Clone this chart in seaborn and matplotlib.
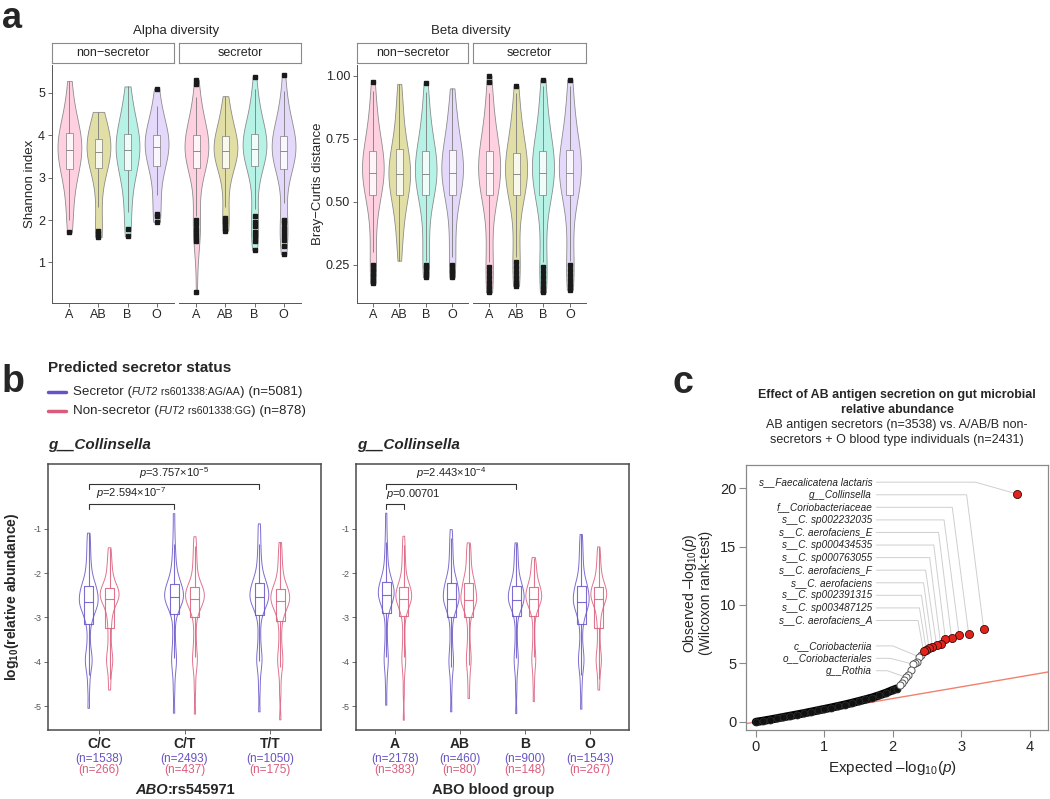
import matplotlib
matplotlib.use("Agg")
import numpy as np
import pandas as pd
import matplotlib.pyplot as plt
import seaborn as sns

# ---------------- data ----------------
blood_groups = ["A", "AB", "B", "O"]

# panel a, alpha diversity (Shannon index)
shannon_ns_A = [1.72, 2.0, 2.4, 2.75, 3.0, 3.2, 3.3, 3.4, 3.5, 3.58, 3.65, 3.72, 3.8, 3.88, 3.96, 4.05, 4.15, 4.3, 4.5, 4.8, 5.28]
shannon_ns_AB = [1.6, 1.68, 1.75, 2.3, 2.8, 3.22, 3.32, 3.4, 3.48, 3.55, 3.6, 3.66, 3.72, 3.78, 3.85, 3.92, 4.0, 4.1, 4.25, 4.4, 4.55]
shannon_ns_B = [1.62, 1.78, 2.2, 2.6, 2.95, 3.18, 3.3, 3.4, 3.5, 3.58, 3.65, 3.72, 3.8, 3.88, 3.95, 4.03, 4.15, 4.3, 4.5, 4.8, 5.15]
shannon_ns_O = [1.96, 2.1, 2.15, 2.6, 3.0, 3.28, 3.4, 3.5, 3.58, 3.66, 3.73, 3.8, 3.85, 3.9, 3.95, 4.0, 4.1, 4.25, 4.45, 4.7, 5.1]
shannon_sec_A = [0.3, 1.5, 1.6, 1.7, 1.8, 1.9, 2.0, 2.1, 2.6, 3.0, 3.22, 3.3, 3.36, 3.42, 3.47, 3.5, 3.53, 3.56, 3.58, 3.6, 3.63,
                 3.66, 3.69, 3.72, 3.75, 3.78, 3.82, 3.86, 3.9, 3.95, 4.0, 4.06, 4.12, 4.2, 4.3, 4.4, 4.55, 4.7, 4.9, 5.2, 5.3]
shannon_sec_AB = [1.75, 1.82, 1.9, 1.98, 2.05, 2.3, 2.6, 2.85, 3.0, 3.12, 3.22, 3.3, 3.36, 3.42, 3.47, 3.5, 3.54, 3.57, 3.59, 3.61, 3.63,
                  3.66, 3.69, 3.72, 3.75, 3.78, 3.81, 3.85, 3.89, 3.93, 3.98, 4.04, 4.1, 4.18, 4.26, 4.35, 4.45, 4.55, 4.65, 4.78, 4.92]
shannon_sec_B = [1.3, 1.5, 1.62, 1.72, 1.85, 1.95, 2.1, 2.25, 2.7, 3.05, 3.28, 3.36, 3.42, 3.47, 3.51, 3.55, 3.58, 3.61, 3.63, 3.65, 3.67,
                 3.7, 3.73, 3.76, 3.79, 3.82, 3.86, 3.9, 3.94, 3.98, 4.03, 4.09, 4.15, 4.23, 4.32, 4.42, 4.55, 4.7, 4.9, 5.1, 5.38]
shannon_sec_O = [1.2, 1.4, 1.52, 1.62, 1.72, 1.82, 1.92, 2.0, 2.4, 2.85, 3.2, 3.28, 3.34, 3.4, 3.45, 3.49, 3.52, 3.55, 3.58, 3.6, 3.62,
                 3.65, 3.68, 3.71, 3.74, 3.77, 3.8, 3.84, 3.88, 3.93, 3.98, 4.04, 4.1, 4.18, 4.27, 4.37, 4.5, 4.65, 4.85, 5.05, 5.42]

# panel a, beta diversity (Bray-Curtis distance)
bray_ns_A = [0.175, 0.19, 0.21, 0.23, 0.25, 0.30, 0.36, 0.42, 0.46, 0.5, 0.525, 0.54, 0.555, 0.57, 0.58, 0.59, 0.598, 0.604, 0.608, 0.612, 0.615,
             0.62, 0.628, 0.636, 0.645, 0.655, 0.665, 0.675, 0.685, 0.693, 0.70, 0.715, 0.73, 0.75, 0.77, 0.8, 0.83, 0.86, 0.9, 0.94, 0.975]
bray_ns_AB = [0.265, 0.3, 0.34, 0.38, 0.41, 0.44, 0.46, 0.48, 0.495, 0.51, 0.525, 0.54, 0.553, 0.565, 0.575, 0.584, 0.592, 0.598, 0.603, 0.607, 0.61,
              0.617, 0.625, 0.634, 0.644, 0.655, 0.666, 0.677, 0.688, 0.699, 0.71, 0.725, 0.74, 0.76, 0.78, 0.81, 0.84, 0.87, 0.9, 0.935, 0.968]
bray_ns_B = [0.20, 0.215, 0.235, 0.25, 0.265, 0.30, 0.36, 0.42, 0.46, 0.5, 0.525, 0.54, 0.553, 0.565, 0.575, 0.584, 0.592, 0.598, 0.603, 0.607, 0.61,
             0.616, 0.624, 0.633, 0.643, 0.654, 0.664, 0.674, 0.683, 0.692, 0.70, 0.714, 0.73, 0.75, 0.775, 0.8, 0.83, 0.86, 0.9, 0.935, 0.97]
bray_ns_O = [0.20, 0.215, 0.23, 0.25, 0.28, 0.33, 0.38, 0.43, 0.47, 0.5, 0.525, 0.54, 0.555, 0.567, 0.578, 0.588, 0.596, 0.602, 0.607, 0.61, 0.613,
             0.62, 0.628, 0.637, 0.647, 0.658, 0.669, 0.68, 0.69, 0.698, 0.705, 0.72, 0.735, 0.755, 0.775, 0.8, 0.825, 0.85, 0.88, 0.91, 0.95]
bray_sec_A = [0.14, 0.16, 0.18, 0.2, 0.22, 0.24, 0.26, 0.33, 0.42, 0.48, 0.525, 0.54, 0.555, 0.567, 0.578, 0.588, 0.596, 0.602, 0.607, 0.61, 0.612,
              0.619, 0.627, 0.636, 0.646, 0.657, 0.668, 0.679, 0.689, 0.697, 0.703, 0.72, 0.74, 0.76, 0.79, 0.82, 0.85, 0.89, 0.93, 0.975, 1.0]
bray_sec_AB = [0.165, 0.18, 0.2, 0.22, 0.24, 0.26, 0.28, 0.34, 0.42, 0.48, 0.525, 0.538, 0.55, 0.562, 0.572, 0.582, 0.59, 0.596, 0.601, 0.605, 0.608,
               0.615, 0.622, 0.63, 0.639, 0.649, 0.659, 0.669, 0.679, 0.688, 0.695, 0.71, 0.725, 0.745, 0.77, 0.8, 0.83, 0.86, 0.895, 0.93, 0.96]
bray_sec_B = [0.14, 0.16, 0.18, 0.2, 0.22, 0.24, 0.26, 0.33, 0.42, 0.48, 0.525, 0.54, 0.555, 0.567, 0.578, 0.588, 0.596, 0.602, 0.607, 0.61, 0.612,
              0.619, 0.627, 0.636, 0.646, 0.657, 0.668, 0.679, 0.689, 0.697, 0.703, 0.72, 0.74, 0.76, 0.79, 0.82, 0.85, 0.89, 0.93, 0.96, 0.985]
bray_sec_O = [0.15, 0.17, 0.19, 0.21, 0.23, 0.25, 0.265, 0.33, 0.42, 0.48, 0.525, 0.54, 0.555, 0.567, 0.578, 0.588, 0.596, 0.602, 0.607, 0.61, 0.613,
              0.62, 0.628, 0.637, 0.647, 0.658, 0.669, 0.68, 0.69, 0.698, 0.705, 0.72, 0.74, 0.76, 0.79, 0.82, 0.85, 0.89, 0.93, 0.96, 0.985]

# panel b, log10 relative abundance of g__Collinsella
genotypes = ["C/C", "C/T", "T/T"]
geno_n_sec = [1538, 2493, 1050]
geno_n_non = [266, 437, 175]
cc_sec = [-5.05, -4.6, -4.3, -4.12, -4.03, -3.97, -3.9, -3.8, -3.62, -3.4, -3.16, -3.05, -2.97, -2.9, -2.84, -2.79, -2.75, -2.72, -2.69, -2.67, -2.66,
          -2.63, -2.59, -2.55, -2.51, -2.47, -2.43, -2.39, -2.36, -2.33, -2.30, -2.25, -2.2, -2.12, -2.03, -1.92, -1.8, -1.65, -1.48, -1.3, -1.1]
cc_non = [-4.64, -4.4, -4.2, -4.08, -4.0, -3.94, -3.87, -3.77, -3.6, -3.42, -3.25, -3.1, -2.98, -2.88, -2.8, -2.73, -2.68, -2.64, -2.61, -2.59, -2.58,
          -2.56, -2.53, -2.5, -2.47, -2.44, -2.41, -2.39, -2.37, -2.35, -2.33, -2.29, -2.24, -2.18, -2.11, -2.03, -1.94, -1.84, -1.72, -1.58, -1.43]
ct_sec = [-5.16, -4.65, -4.3, -4.1, -4.0, -3.92, -3.8, -3.62, -3.4, -3.15, -2.93, -2.85, -2.79, -2.74, -2.7, -2.66, -2.63, -2.6, -2.58, -2.56, -2.55,
          -2.52, -2.49, -2.46, -2.43, -2.4, -2.36, -2.32, -2.29, -2.26, -2.24, -2.19, -2.13, -2.05, -1.96, -1.85, -1.72, -1.55, -1.35, -1.05, -0.66]
ct_non = [-5.18, -4.6, -4.25, -4.07, -3.98, -3.9, -3.8, -3.62, -3.42, -3.18, -2.98, -2.9, -2.83, -2.77, -2.72, -2.68, -2.65, -2.62, -2.6, -2.59, -2.58,
          -2.55, -2.52, -2.49, -2.46, -2.43, -2.4, -2.37, -2.35, -2.33, -2.32, -2.27, -2.21, -2.14, -2.05, -1.95, -1.83, -1.7, -1.55, -1.38, -1.18]
tt_sec = [-5.13, -4.62, -4.28, -4.08, -3.99, -3.92, -3.82, -3.64, -3.42, -3.17, -2.95, -2.87, -2.8, -2.75, -2.7, -2.66, -2.63, -2.6, -2.58, -2.56, -2.55,
          -2.52, -2.49, -2.46, -2.42, -2.38, -2.34, -2.3, -2.27, -2.25, -2.23, -2.18, -2.12, -2.04, -1.95, -1.84, -1.7, -1.54, -1.35, -1.13, -0.89]
tt_non = [-5.31, -4.7, -4.32, -4.12, -4.02, -3.95, -3.86, -3.72, -3.52, -3.3, -3.09, -2.99, -2.91, -2.84, -2.78, -2.73, -2.7, -2.67, -2.65, -2.64, -2.64,
          -2.61, -2.58, -2.54, -2.5, -2.47, -2.44, -2.41, -2.39, -2.37, -2.35, -2.3, -2.25, -2.18, -2.1, -2.01, -1.9, -1.78, -1.64, -1.48, -1.31]

abo_n_sec = [2178, 460, 900, 1543]
abo_n_non = [383, 80, 148, 267]
a_sec = [-4.98, -4.55, -4.25, -4.07, -3.98, -3.9, -3.78, -3.6, -3.38, -3.14, -2.91, -2.83, -2.76, -2.7, -2.65, -2.61, -2.58, -2.55, -2.53, -2.51, -2.5,
         -2.47, -2.44, -2.41, -2.38, -2.35, -2.31, -2.27, -2.24, -2.22, -2.2, -2.15, -2.09, -2.01, -1.92, -1.81, -1.67, -1.5, -1.3, -1.02, -0.65]
a_non = [-5.32, -4.7, -4.3, -4.08, -3.98, -3.9, -3.79, -3.6, -3.4, -3.17, -2.97, -2.89, -2.82, -2.76, -2.71, -2.67, -2.64, -2.61, -2.59, -2.58, -2.58,
         -2.55, -2.52, -2.49, -2.46, -2.43, -2.4, -2.37, -2.34, -2.32, -2.31, -2.26, -2.2, -2.13, -2.04, -1.94, -1.82, -1.69, -1.54, -1.37, -1.17]
ab_sec = [-5.13, -4.62, -4.3, -4.12, -4.03, -3.95, -3.84, -3.66, -3.44, -3.2, -2.99, -2.9, -2.83, -2.77, -2.72, -2.68, -2.65, -2.62, -2.6, -2.59, -2.58,
          -2.54, -2.5, -2.46, -2.42, -2.38, -2.34, -2.3, -2.27, -2.24, -2.22, -2.17, -2.11, -2.03, -1.94, -1.83, -1.7, -1.55, -1.4, -1.22, -1.02]
ab_non = [-4.83, -4.5, -4.25, -4.08, -3.98, -3.9, -3.8, -3.64, -3.43, -3.2, -2.99, -2.91, -2.84, -2.78, -2.73, -2.69, -2.66, -2.63, -2.61, -2.6, -2.6,
          -2.56, -2.52, -2.48, -2.44, -2.4, -2.35, -2.31, -2.27, -2.24, -2.22, -2.17, -2.12, -2.05, -1.97, -1.88, -1.78, -1.67, -1.55, -1.44, -1.32]
b_sec = [-5.17, -4.65, -4.3, -4.1, -4.0, -3.92, -3.82, -3.64, -3.42, -3.18, -2.97, -2.89, -2.82, -2.77, -2.72, -2.68, -2.65, -2.63, -2.61, -2.6, -2.6,
         -2.57, -2.54, -2.5, -2.46, -2.43, -2.39, -2.35, -2.32, -2.3, -2.29, -2.24, -2.18, -2.11, -2.03, -1.94, -1.84, -1.72, -1.6, -1.46, -1.32]
b_non = [-4.9, -4.52, -4.25, -4.08, -3.98, -3.9, -3.8, -3.63, -3.42, -3.18, -2.97, -2.89, -2.82, -2.76, -2.71, -2.67, -2.64, -2.62, -2.6, -2.59, -2.59,
         -2.56, -2.53, -2.5, -2.47, -2.44, -2.41, -2.38, -2.35, -2.33, -2.31, -2.27, -2.23, -2.18, -2.12, -2.05, -1.98, -1.9, -1.82, -1.74, -1.65]
o_sec = [-5.07, -4.6, -4.3, -4.12, -4.03, -3.96, -3.88, -3.77, -3.6, -3.38, -3.16, -3.05, -2.96, -2.89, -2.83, -2.78, -2.74, -2.71, -2.68, -2.66, -2.65,
         -2.62, -2.58, -2.54, -2.5, -2.46, -2.42, -2.38, -2.34, -2.31, -2.29, -2.24, -2.18, -2.1, -2.01, -1.9, -1.78, -1.64, -1.49, -1.32, -1.13]
o_non = [-4.64, -4.4, -4.2, -4.08, -4.0, -3.94, -3.87, -3.77, -3.6, -3.42, -3.23, -3.08, -2.97, -2.87, -2.79, -2.72, -2.67, -2.63, -2.6, -2.59, -2.58,
         -2.55, -2.52, -2.49, -2.46, -2.43, -2.4, -2.37, -2.35, -2.33, -2.31, -2.27, -2.22, -2.16, -2.09, -2.01, -1.92, -1.82, -1.7, -1.56, -1.41]

# panel c, QQ plot (expected vs observed -log10 p)
bulk_expected = [0.0, 0.1, 0.2, 0.3, 0.4, 0.5, 0.6, 0.7, 0.8, 0.9, 1.0, 1.1, 1.2, 1.3, 1.4, 1.5, 1.6, 1.7, 1.8, 1.9, 2.0, 2.06]
bulk_observed = [0.0, 0.09, 0.19, 0.3, 0.41, 0.52, 0.63, 0.74, 0.86, 0.98, 1.1, 1.22, 1.35, 1.48, 1.62, 1.77, 1.92, 2.08, 2.27, 2.48, 2.72, 2.85]
open_expected = [2.41, 2.38, 2.35, 2.32, 2.29, 2.26, 2.23, 2.2, 2.17, 2.14, 2.11]
open_observed = [5.72, 5.58, 5.12, 5.02, 4.95, 4.45, 4.0, 3.8, 3.55, 3.35, 3.2]
red_expected = [3.81, 3.33, 3.11, 2.97, 2.86, 2.77, 2.70, 2.64, 2.58, 2.53, 2.49, 2.45]
red_observed = [19.5, 7.95, 7.52, 7.42, 7.15, 7.08, 6.65, 6.6, 6.42, 6.3, 6.15, 6.05]
red_labels = ["s__Faecalicatena lactaris", "g__Collinsella", "f__Coriobacteriaceae", "s__C. sp002232035",
              "s__C. aerofaciens_E", "s__C. sp000434535", "s__C. sp000763055", "s__C. aerofaciens_F",
              "s__C. aerofaciens", "s__C. sp002391315", "s__C. sp003487125", "s__C. aerofaciens_A"]
open_labels = ["c__Coriobacteriia", "o__Coriobacteriales", "g__Rothia"]
open_label_idx = [1, 4, 7]

# ---------------- style ----------------
sns.set_theme(style="white")
plt.rcParams["font.family"] = ["Liberation Sans", "DejaVu Sans"]
plt.rcParams["axes.unicode_minus"] = False
plt.rcParams["mathtext.fontset"] = "custom"
plt.rcParams["mathtext.rm"] = "Liberation Sans"
plt.rcParams["mathtext.it"] = "Liberation Sans:italic"
plt.rcParams["mathtext.bf"] = "Liberation Sans:bold"
plt.rcParams["mathtext.default"] = "regular"

abo_colors = {"A": "#FFD1E0", "AB": "#E2DFA6", "B": "#B6F2E6", "O": "#E4D9FA"}
sec_color = "#6753C6"
non_color = "#DA5C7B"
status_colors = {"Secretor": sec_color, "Non-secretor": non_color}

W, H = 1050, 799
fig = plt.figure(figsize=(W / 100, H / 100), dpi=100)
renderer = fig.canvas.get_renderer()


def px_axes(left, top, right, bottom):
    return fig.add_axes([left / W, 1 - bottom / H, (right - left) / W, (bottom - top) / H])


def ftext(x, y, s, **kw):
    return fig.text(x / W, 1 - y / H, s, **kw)


def rich(x, y, parts, ha="left"):
    # several text pieces with their own styles placed one after another
    texts, widths = [], []
    for s, kw in parts:
        t = ftext(0, y, s, va="center", ha="left", **kw)
        texts.append(t)
        widths.append(t.get_window_extent(renderer).width)
    total = sum(widths)
    cur = x - total / 2 if ha == "center" else x
    for t, w in zip(texts, widths):
        t.set_x(cur / W)
        cur += w


# ---------------- panel a ----------------
def diversity_facet(ax, lists, ylim, yticks, ticklabels, show_y):
    rows = [(g, v) for g, vals in zip(blood_groups, lists) for v in vals]
    df = pd.DataFrame(rows, columns=["group", "value"])
    sns.violinplot(data=df, x="group", y="value", hue="group", order=blood_groups,
                   hue_order=blood_groups, palette=abo_colors, legend=False, inner=None,
                   cut=0, density_norm="width", width=0.82, linecolor="#8c8c8c",
                   linewidth=0.6, bw_adjust=1.05, saturation=1, ax=ax)
    sns.boxplot(data=df, x="group", y="value", order=blood_groups, width=0.26,
                color="white", linecolor="#7a7a7a", linewidth=0.6, showcaps=False,
                flierprops=dict(marker="s", markersize=3.0, markerfacecolor="#1a1a1a",
                                markeredgecolor="#1a1a1a"), ax=ax)
    for p in ax.patches:
        p.set_alpha(0.8)
    ax.set_xlim(-0.6, 3.6)
    ax.set_ylim(*ylim)
    ax.set_xlabel("")
    ax.set_ylabel("")
    for s in ["top", "right"]:
        ax.spines[s].set_visible(False)
    ax.spines["bottom"].set_color("#555555")
    ax.spines["left"].set_color("#555555")
    ax.spines["bottom"].set_linewidth(0.7)
    ax.spines["left"].set_linewidth(0.7)
    ax.tick_params(axis="x", length=3, width=0.6, color="#555555", labelsize=9, pad=1, bottom=True)
    if show_y:
        ax.set_yticks(yticks)
        ax.set_yticklabels(ticklabels)
        ax.tick_params(axis="y", length=3, width=0.6, color="#555555", labelsize=9, pad=2, left=True)
    else:
        ax.spines["left"].set_visible(False)
        ax.set_yticks([])


def strip(left, right, label):
    sax = px_axes(left, 43, right, 63)
    sax.set_xticks([])
    sax.set_yticks([])
    for s in sax.spines.values():
        s.set_color("#8a8a8a")
        s.set_linewidth(0.8)
    sax.text(0.5, 0.5, label, ha="center", va="center", fontsize=9, transform=sax.transAxes)


alpha_lim = (0.045, 5.655)
beta_lim = (0.097, 1.043)
ax1 = px_axes(52, 65, 174, 303)
diversity_facet(ax1, [shannon_ns_A, shannon_ns_AB, shannon_ns_B, shannon_ns_O], alpha_lim,
                [1, 2, 3, 4, 5], ["1", "2", "3", "4", "5"], True)
ax2 = px_axes(179, 65, 301, 303)
diversity_facet(ax2, [shannon_sec_A, shannon_sec_AB, shannon_sec_B, shannon_sec_O], alpha_lim, [], [], False)
ax3 = px_axes(357, 65, 468, 303)
diversity_facet(ax3, [bray_ns_A, bray_ns_AB, bray_ns_B, bray_ns_O], beta_lim,
                [0.25, 0.5, 0.75, 1.0], ["0.25", "0.50", "0.75", "1.00"], True)
ax4 = px_axes(473, 65, 586, 303)
diversity_facet(ax4, [bray_sec_A, bray_sec_AB, bray_sec_B, bray_sec_O], beta_lim, [], [], False)

strip(52, 174, "non\u2212secretor")
strip(179, 301, "secretor")
strip(357, 468, "non\u2212secretor")
strip(473, 586, "secretor")
ftext(176, 31, "Alpha diversity", ha="center", va="center", fontsize=9.5)
ftext(471, 31, "Beta diversity", ha="center", va="center", fontsize=9.5)
ftext(30, 184, "Shannon index", ha="center", va="center", rotation=90, fontsize=9.5)
ftext(318, 184, "Bray\u2212Curtis distance", ha="center", va="center", rotation=90, fontsize=9.5)
ftext(2, 1, "a", fontsize=26, fontweight="bold", va="top")

# ---------------- panel b ----------------
ftext(2, 392, "b", fontsize=27, fontweight="bold", va="baseline")
ftext(48, 368, "Predicted secretor status", fontsize=11, fontweight="bold", va="center")
for yy, col, parts in [
    (392, sec_color, [("Secretor (", {"fontsize": 9.6}), ("FUT2", {"fontsize": 7.6, "style": "italic"}),
                      (" rs601338:AG/AA", {"fontsize": 7.6}), (") (n=5081)", {"fontsize": 9.6})]),
    (411, non_color, [("Non-secretor (", {"fontsize": 9.6}), ("FUT2", {"fontsize": 7.6, "style": "italic"}),
                      (" rs601338:GG", {"fontsize": 7.6}), (") (n=878)", {"fontsize": 9.6})])]:
    fig.add_artist(plt.Line2D([48 / W, 66 / W], [1 - yy / H, 1 - yy / H], color=col, lw=2.5))
    rich(73, yy, parts)


def collinsella_panel(ax, cats, sec_lists, non_lists, width, box_gap):
    rows = []
    for c, s, n in zip(cats, sec_lists, non_lists):
        rows += [(c, "Secretor", v) for v in s]
        rows += [(c, "Non-secretor", v) for v in n]
    df = pd.DataFrame(rows, columns=["cat", "status", "value"])
    sns.violinplot(data=df, x="cat", y="value", hue="status", order=cats,
                   hue_order=["Secretor", "Non-secretor"], palette=status_colors, fill=False,
                   inner=None, cut=0, density_norm="width", width=width, gap=0.1,
                   linewidth=0.7, bw_adjust=0.42, legend=False, ax=ax)
    sns.boxplot(data=df, x="cat", y="value", hue="status", order=cats,
                hue_order=["Secretor", "Non-secretor"], palette=status_colors, fill=False,
                width=width, gap=box_gap, linewidth=0.8, showfliers=False, showcaps=False,
                legend=False, ax=ax)
    for art in ax.collections + ax.lines + ax.patches:
        art.set_alpha(0.85)
    ax.set_xlim(-0.6, len(cats) - 0.4)
    ax.set_ylim(-5.54, 0.46)
    ax.set_yticks([-5, -4, -3, -2, -1])
    ax.set_yticklabels(["-5", "-4", "-3", "-2", "-1"])
    ax.set_xticks(range(len(cats)))
    ax.set_xticklabels([])
    ax.set_xlabel("")
    ax.set_ylabel("")
    for s in ax.spines.values():
        s.set_visible(True)
        s.set_color("#4a4a4a")
        s.set_linewidth(1.1)
    ax.tick_params(axis="y", length=3, width=0.6, color="#555555", labelsize=6.5,
                   labelcolor="#555555", pad=1.5, left=True)
    ax.tick_params(axis="x", length=3, width=0.6, color="#555555", bottom=True)
    tr = ax.get_xaxis_transform()
    for i, c in enumerate(cats):
        ax.text(i, -0.052, c, transform=tr, ha="center", va="center", fontsize=10, fontweight="bold")
    return tr


def bracket(ax, x0, x1, y, label, ha="center"):
    ax.plot([x0, x0, x1, x1], [y - 0.11, y, y, y - 0.11], color="#333333", lw=0.8)
    tx = (x0 + x1) / 2 if ha == "center" else x0
    ax.text(tx, y + 0.07, label, ha=ha, va="bottom", fontsize=8, color="#222222")


axb1 = px_axes(48, 464, 321, 730)
tr1 = collinsella_panel(axb1, genotypes, [cc_sec, ct_sec, tt_sec], [cc_non, ct_non, tt_non], 0.49, 0.57)
for i in range(3):
    axb1.text(i, -0.108, f"(n={geno_n_sec[i]})", transform=tr1, ha="center", va="center", fontsize=8.5, color=sec_color)
    axb1.text(i, -0.150, f"(n={geno_n_non[i]})", transform=tr1, ha="center", va="center", fontsize=8.5, color=non_color)
bracket(axb1, -0.123, 1.877, 0.01, r"$\it{p}$=3.757×10$^{-5}$")
bracket(axb1, -0.123, 0.877, -0.44, r"$\it{p}$=2.594×10$^{-7}$")

axb2 = px_axes(356, 464, 629, 730)
tr2 = collinsella_panel(axb2, blood_groups, [a_sec, ab_sec, b_sec, o_sec], [a_non, ab_non, b_non, o_non], 0.54, 0.47)
for i in range(4):
    axb2.text(i, -0.108, f"(n={abo_n_sec[i]})", transform=tr2, ha="center", va="center", fontsize=8.5, color=sec_color)
    axb2.text(i, -0.150, f"(n={abo_n_non[i]})", transform=tr2, ha="center", va="center", fontsize=8.5, color=non_color)
bracket(axb2, -0.135, 1.865, 0.01, r"$\it{p}$=2.443×10$^{-4}$")
bracket(axb2, -0.135, 0.135, -0.44, r"$\it{p}$=0.00701", ha="left")

ftext(48, 445, "g__Collinsella", fontsize=11, fontweight="bold", style="italic", va="center")
ftext(357, 445, "g__Collinsella", fontsize=11, fontweight="bold", style="italic", va="center")
ftext(12, 597, r"log$_{\bf 10}$(relative abundance)", fontsize=10, fontweight="bold", rotation=90,
      ha="center", va="center")
rich(185, 790, [("ABO", {"fontsize": 10.5, "fontweight": "bold", "style": "italic"}),
                (":rs545971", {"fontsize": 10.5, "fontweight": "bold"})], ha="center")
ftext(493, 790, "ABO blood group", fontsize=10.5, fontweight="bold", ha="center", va="center")

# ---------------- panel c ----------------
ftext(672, 393, "c", fontsize=27, fontweight="bold", va="baseline")
ftext(897, 395, "Effect of AB antigen secretion on gut microbial", fontsize=8.9, fontweight="bold", ha="center", va="center")
ftext(897, 410, "relative abundance", fontsize=8.9, fontweight="bold", ha="center", va="center")
ftext(897, 425, "AB antigen secretors (n=3538) vs. A/AB/B non-", fontsize=9, ha="center", va="center")
ftext(897, 440, "secretors + O blood type individuals (n=2431)", fontsize=9, ha="center", va="center")

axc = px_axes(746, 465, 1048, 730)
axc.axline((0, 0), slope=1, color="#F2816E", lw=1, zorder=1)
sns.lineplot(x=bulk_expected, y=bulk_observed, sort=False, estimator=None, color="black",
             lw=6, solid_capstyle="round", ax=axc, zorder=2)
sns.scatterplot(x=bulk_expected, y=bulk_observed, s=26, color="#111111", edgecolor="#333333",
                linewidth=0.5, ax=axc, zorder=3)
sns.scatterplot(x=open_expected, y=open_observed, s=26, facecolor="white", edgecolor="#555555",
                linewidth=0.7, ax=axc, zorder=3)
sns.scatterplot(x=red_expected, y=red_observed, s=34, color="#E2231A", edgecolor="#3a0a08",
                linewidth=0.6, ax=axc, zorder=4)

label_x = 1.70
line_start = 1.76
knee_x = [3.21, 3.08, 2.87, 2.75, 2.67, 2.6, 2.54, 2.48, 2.45, 2.42, 2.39, 2.37]
for i, (lab, ex, ob) in enumerate(zip(red_labels, red_expected, red_observed)):
    ly = 20.5 - i * 1.075
    axc.text(label_x, ly, lab, ha="right", va="center", fontsize=7.2, style="italic", color="#222222")
    axc.plot([line_start, knee_x[i], ex], [ly, ly, ob], color="#cfcfcf", lw=0.7, zorder=1.5)
open_knee = [2.0, 1.96, 1.92]
for i, (lab, idx) in enumerate(zip(open_labels, open_label_idx)):
    ly = 6.5 - i * 1.06
    axc.text(label_x, ly, lab, ha="right", va="center", fontsize=7.2, style="italic", color="#222222")
    axc.plot([line_start, open_knee[i], open_expected[idx]], [ly, ly, open_observed[idx]],
             color="#cfcfcf", lw=0.7, zorder=1.5)

axc.set_xlim(-0.146, 4.27)
axc.set_ylim(-0.69, 21.97)
axc.set_xticks([0, 1, 2, 3, 4])
axc.set_yticks([0, 5, 10, 15, 20])
for s in axc.spines.values():
    s.set_visible(True)
    s.set_color("#8a8a8a")
    s.set_linewidth(0.9)
axc.tick_params(length=5, width=0.8, color="#8a8a8a", labelsize=10.5, pad=2, left=True, bottom=True)
axc.set_xlabel("")
axc.set_ylabel("")
ftext(892, 768, r"Expected –log$_{10}$($\it{p}$)", fontsize=11, ha="center", va="center")
ftext(697, 593, "Observed –log$_{10}$($\\it{p}$)\n(Wilcoxon rank-test)", fontsize=10, ha="center",
      va="center", rotation=90, linespacing=1.0, multialignment="center")

fig.savefig("out.png", dpi=100)
